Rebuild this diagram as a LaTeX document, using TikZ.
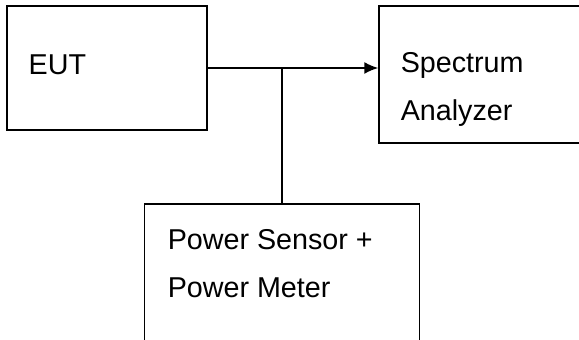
\documentclass[tikz,border=0pt]{standalone}
\usepackage{fontspec}
\setmainfont{Liberation Sans}
\usepackage{tikz}
\usetikzlibrary{arrows.meta,positioning}

\begin{document}
\begin{tikzpicture}[x=0.5pt,y=-0.5pt,>={Latex[length=7pt,width=6pt]},
  line width=0.75pt,
  box node/.style={draw,rectangle,inner sep=0pt},
  text node/.style={inner sep=0pt,anchor=west,align=left,
    font=\fontsize{14.35pt}{24pt}\selectfont}]
  \useasboundingbox (0,0) rectangle (579,340);
  % boxes
  \node[box node,minimum width=100pt,minimum height=62pt] (eut) at (107,68) {};
  \node[box node,minimum width=110pt,minimum height=68.5pt] (sa) at (489,74.5) {};
  \node[box node,minimum width=137.5pt,minimum height=83pt] (pm) at (282,287) {};
  % texts
  \node[text node] (eutlbl) at (28,65) {EUT};
  \node[text node] (salbl) at (400,89) {Spectrum\\Analyzer};
  \node[text node] (pmlbl) at (167,263.5) {Power Sensor +\\Power Meter};
  % connections
  \draw[->] (eut.east) -- (sa.west |- eut.east);
  \draw (pm.north) -- (pm.north |- eut.east);
\end{tikzpicture}
\end{document}
